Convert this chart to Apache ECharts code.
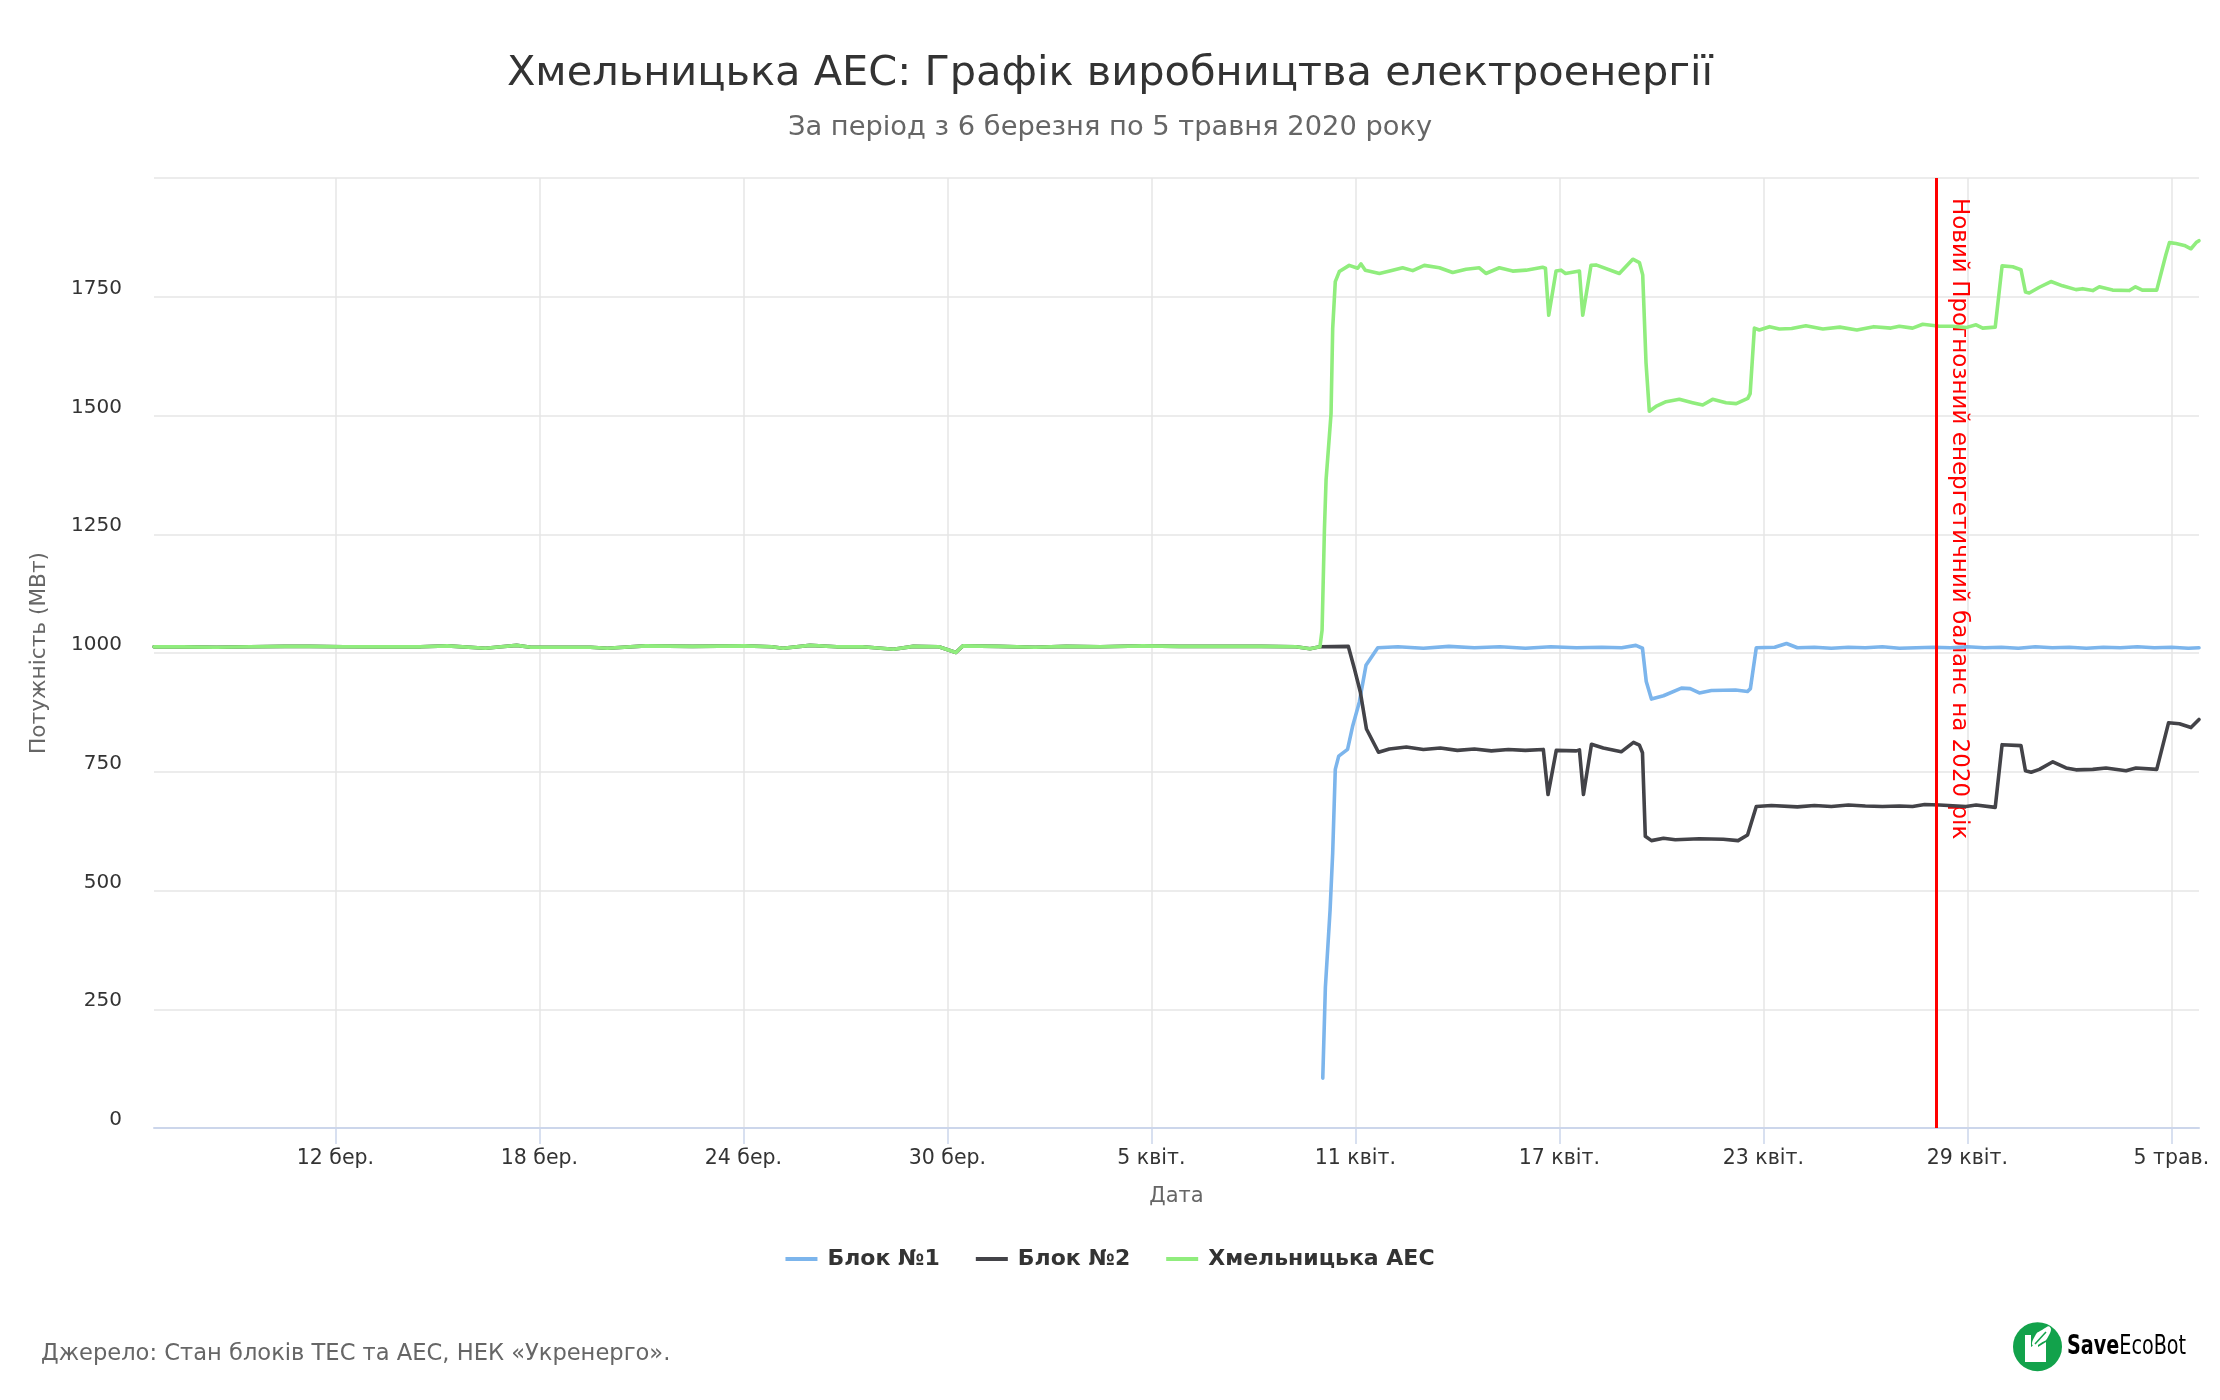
<!DOCTYPE html>
<html><head><meta charset="utf-8">
<script src="https://cdn.jsdelivr.net/npm/echarts@6/dist/echarts.min.js"></script>
<style>html,body{margin:0;padding:0;background:#fff}#main{width:2220px;height:1400px}</style>
</head><body><div id="main"></div>
<script>
// ---- data (times: 2020, MM-DD HH:mm) ----
const axisStart = '03-06 16:00';
const axisEnd = '05-05 19:30';
const tickDates = ['03-12 00:00','03-18 00:00','03-24 00:00','03-30 00:00','04-05 00:00','04-11 00:00','04-17 00:00','04-23 00:00','04-29 00:00','05-05 00:00'];
const tickLabels = ['12 бер.','18 бер.','24 бер.','30 бер.','5 квіт.','11 квіт.','17 квіт.','23 квіт.','29 квіт.','5 трав.'];
const yTicks = [0,250,500,750,1000,1250,1500,1750,2000];
const balanceDate = '04-28 02:00';
const balanceLabel = 'Новий Прогнозний енергетичний баланс на 2020 рік';

const unit1Times = ['04-10 01:00','04-10 02:50','04-10 06:10','04-10 08:00','04-10 09:50','04-10 12:15','04-10 18:30','04-10 22:10','04-11 02:50','04-11 07:30','04-11 15:50','04-12 06:00','04-13 00:00','04-13 18:00','04-14 12:00','04-15 06:00','04-16 00:00','04-16 18:00','04-17 12:00','04-18 06:00','04-18 20:00','04-19 06:00','04-19 10:40','04-19 13:20','04-19 17:00','04-20 01:30','04-20 14:10','04-20 20:20','04-21 02:50','04-21 11:20','04-22 04:20','04-22 12:50','04-22 14:50','04-22 19:00','04-23 08:00','04-23 16:20','04-24 00:00','04-24 12:00','04-25 00:00','04-25 12:00','04-26 00:00','04-26 12:00','04-27 00:00','04-27 12:00','04-28 00:00','04-28 12:00','04-29 00:00','04-29 12:00','04-30 00:00','04-30 12:00','05-01 00:00','05-01 12:00','05-02 00:00','05-02 12:00','05-03 00:00','05-03 12:00','05-04 00:00','05-04 12:00','05-05 00:00','05-05 12:00','05-05 19:30'];
const unit1Values = [105,296,459,579,755,783,797,847,897,974,1011,1013,1010,1014,1011,1013,1010,1013,1011,1012,1011,1016,1010,940,903,910,926,925,916,921,922,919,925,1011,1012,1020,1011,1012,1010,1012,1011,1013,1010,1011,1012,1011,1013,1011,1012,1010,1013,1011,1012,1010,1012,1011,1013,1011,1012,1010,1011];

const unit2Times = ['03-06 16:00','03-07 12:00','03-08 12:00','03-09 12:00','03-10 12:00','03-11 06:00','03-12 06:00','03-13 12:00','03-14 12:00','03-15 07:00','03-16 10:00','03-16 21:00','03-17 08:00','03-17 18:00','03-18 18:00','03-19 12:00','03-20 00:00','03-21 03:00','03-22 12:00','03-24 01:00','03-24 20:00','03-25 04:00','03-25 23:00','03-26 18:00','03-27 12:00','03-28 10:00','03-29 00:00','03-29 18:00','03-30 06:00','03-30 11:00','03-31 12:00','04-01 14:00','04-02 12:00','04-03 12:00','04-04 18:00','04-05 20:00','04-07 00:00','04-08 06:00','04-09 06:00','04-09 16:00','04-09 23:00',
'04-10 19:00','04-10 23:20','04-11 03:30','04-11 07:50','04-11 16:20','04-12 00:00','04-12 12:00','04-13 00:00','04-13 12:00','04-14 00:00','04-14 12:00','04-15 00:00','04-15 12:00','04-16 00:00','04-16 12:40','04-16 16:00','04-16 21:50','04-17 12:00','04-17 14:10','04-17 17:00','04-17 22:40','04-18 07:00','04-18 19:40','04-19 04:20','04-19 08:30','04-19 10:40','04-19 12:40','04-19 17:00','04-20 01:30','04-20 09:50','04-21 02:50','04-21 19:40','04-22 06:10','04-22 12:50','04-22 19:00','04-23 05:40','04-24 00:00','04-24 12:00','04-25 00:00','04-25 12:00','04-26 00:00','04-26 12:00','04-27 00:00','04-27 09:20','04-27 17:50','04-28 04:20','04-28 23:00','04-29 06:10','04-29 19:40','04-30 00:30','04-30 13:50','04-30 17:00','04-30 21:00','05-01 02:50','05-01 12:20','05-01 21:40','05-02 04:40','05-02 16:30','05-03 01:50','05-03 16:00','05-03 23:00','05-04 13:40','05-04 22:00','05-05 05:40','05-05 13:50','05-05 19:30'];
const unit2Values = [1013,1013,1012,1013,1014,1014,1013,1013,1013,1015,1010,1013,1016,1012,1012,1012,1010,1015,1014,1015,1013,1010,1016,1013,1013,1008,1014,1013,1001,1015,1014,1012,1014,1013,1015,1014,1014,1014,1013,1009,1013,
1014,967,918,840,791,798,802,797,800,795,798,794,797,795,797,702,795,794,796,702,808,800,792,812,806,790,614,605,610,607,609,608,605,617,677,679,676,679,677,680,678,677,678,677,681,680,677,680,675,807,805,752,749,755,771,758,754,755,758,752,758,755,853,851,843,860];

const plantTimes = ['03-06 16:00','03-07 12:00','03-08 12:00','03-09 12:00','03-10 12:00','03-11 06:00','03-12 06:00','03-13 12:00','03-14 12:00','03-15 07:00','03-16 10:00','03-16 21:00','03-17 08:00','03-17 18:00','03-18 18:00','03-19 12:00','03-20 00:00','03-21 03:00','03-22 12:00','03-24 01:00','03-24 20:00','03-25 04:00','03-25 23:00','03-26 18:00','03-27 12:00','03-28 10:00','03-29 00:00','03-29 18:00','03-30 06:00','03-30 11:00','03-31 12:00','04-01 14:00','04-02 12:00','04-03 12:00','04-04 18:00','04-05 20:00','04-07 00:00','04-08 06:00','04-09 06:00','04-09 16:00','04-09 23:00',
'04-10 00:30','04-10 02:10','04-10 03:20','04-10 05:40','04-10 06:50','04-10 08:00','04-10 09:50','04-10 12:40','04-10 19:40','04-11 01:40','04-11 04:00','04-11 07:00','04-11 17:00','04-12 02:20','04-12 09:20','04-12 16:30','04-13 00:40','04-13 11:20','04-13 20:40','04-14 06:10','04-14 15:30','04-14 20:10','04-15 05:40','04-15 15:00','04-16 00:30','04-16 12:10','04-16 14:10','04-16 16:30','04-16 21:40','04-17 01:10','04-17 04:20','04-17 14:10','04-17 16:30','04-17 22:20','04-18 01:50','04-18 18:20','04-19 03:50','04-19 08:30','04-19 10:50','04-19 13:10','04-19 15:30','04-19 20:10','04-20 03:20','04-20 12:40','04-20 22:00','04-21 05:10','04-21 12:10','04-21 21:40','04-22 04:50','04-22 13:00','04-22 14:40','04-22 17:40','04-22 21:10','04-23 04:20','04-23 11:20','04-23 20:00','04-24 06:00','04-24 18:00','04-25 06:00','04-25 18:00','04-26 06:00','04-26 18:00','04-27 00:00','04-27 09:20','04-27 16:30','04-28 04:20','04-28 13:40','04-28 23:00','04-29 06:10','04-29 10:50','04-29 19:40','04-30 00:30','04-30 08:00','04-30 13:50','04-30 17:00','04-30 19:40','05-01 02:50','05-01 11:00','05-01 19:10','05-02 04:40','05-02 09:20','05-02 16:30','05-02 21:10','05-03 06:30','05-03 18:20','05-03 22:40','05-04 03:30','05-04 13:40','05-04 20:10','05-04 22:40','05-05 03:20','05-05 09:10','05-05 13:50','05-05 17:30','05-05 19:30'];
const plantValues = [1013,1013,1012,1013,1014,1014,1013,1013,1013,1015,1010,1013,1016,1012,1012,1012,1010,1015,1014,1015,1013,1010,1016,1013,1013,1008,1014,1013,1001,1015,1014,1012,1014,1013,1015,1014,1014,1014,1013,1009,1013,
1048,1260,1365,1457,1504,1683,1782,1803,1816,1810,1819,1806,1799,1806,1811,1805,1816,1811,1801,1808,1811,1799,1811,1804,1806,1812,1810,1711,1804,1806,1799,1804,1711,1816,1817,1799,1829,1822,1796,1611,1509,1519,1529,1534,1527,1522,1534,1527,1525,1536,1546,1684,1680,1687,1682,1683,1689,1682,1686,1680,1687,1684,1688,1684,1692,1688,1688,1685,1691,1684,1686,1815,1813,1807,1760,1758,1770,1782,1773,1765,1767,1763,1771,1764,1763,1771,1764,1764,1839,1864,1862,1858,1851,1864,1868];

// ---- helpers ----
const T = s => new Date('2020-' + s.replace(' ', 'T')).getTime();
const pairs = (ts, vs) => ts.map((t, i) => [T(t), vs[i]]);
const tickTs = tickDates.map(T);
const FONT = '"DejaVu Sans", sans-serif';

const chart = echarts.init(document.getElementById('main'), null, {renderer: 'canvas'});
const lineSeries = (name, color, data, extra) => Object.assign({
  name, type: 'line', data, showSymbol: false, symbol: 'none',
  lineStyle: {width: 3.6, color, join: 'round', cap: 'round'},
  itemStyle: {color}, emphasis: {disabled: true}, animation: false
}, extra || {});

const staticGraphics = [
  {type: 'text', x: 41, y: 1354, style: {text: 'Джерело: Стан блоків ТЕС та АЕС, НЕК «Укренерго».', fill: '#666666',
    font: '22.6px ' + FONT, verticalAlign: 'middle'}},
  {type: 'circle', shape: {cx: 2037.5, cy: 1346.7, r: 24.5}, style: {fill: '#12a24b'}},
  {type: 'polygon', shape: {points: [[2025,1362],[2025,1335],[2031,1335],[2031,1347],[2038,1342],[2038,1347],[2046,1342],[2046,1362]]}, style: {fill: '#ffffff'}},
  {type: 'polygon', shape: {smooth: 0.6, points: [[2033,1346],[2035,1336],[2042,1330],[2050,1327],[2048,1337],[2041,1343]]}, style: {fill: '#ffffff'}},
  {type: 'line', shape: {x1: 2035, y1: 1344, x2: 2046, y2: 1332}, style: {stroke: '#12a24b', lineWidth: 1.5}},
  {type: 'text', x: 2067, y: 1347, scaleX: 0.82, style: {text: '{a|Save}{b|EcoBot}', verticalAlign: 'middle', rich: {
    a: {fontFamily: '"DejaVu Sans Condensed", sans-serif', fontWeight: 'bold', fontSize: 26, color: '#111111'},
    b: {fontFamily: '"DejaVu Sans Condensed", sans-serif', fontSize: 26, color: '#111111'}}}}
];

chart.setOption({
  animation: false,
  backgroundColor: '#ffffff',
  textStyle: {fontFamily: FONT},
  title: [
    {text: 'Хмельницька АЕС: Графік виробництва електроенергії', left: 'center', top: 47,
     textStyle: {fontSize: 41.5, fontWeight: 'normal', color: '#333333', fontFamily: FONT, lineHeight: 44}},
    {text: 'За період з 6 березня по 5 травня 2020 року', left: 'center', top: 108,
     textStyle: {fontSize: 27.3, fontWeight: 'normal', color: '#666666', fontFamily: FONT, lineHeight: 30}}
  ],
  grid: {left: 154, right: 21, top: 178, bottom: 272, containLabel: false},
  legend: {
    top: 1243, left: 'center', icon: 'rect', itemWidth: 32, itemHeight: 4, itemGap: 36,
    textStyle: {fontSize: 22, fontWeight: 'bold', color: '#333333', fontFamily: FONT, padding: [0, 0, 0, 5]},
    data: ['Блок №1', 'Блок №2', 'Хмельницька АЕС']
  },
  xAxis: {
    type: 'value', min: T(axisStart), max: T(axisEnd),
    axisLine: {show: true, lineStyle: {color: '#ccd6eb', width: 2}},
    axisTick: {show: true, length: 16, customValues: tickTs, lineStyle: {color: '#ccd6eb', width: 1.5}},
    axisLabel: {customValues: tickTs, color: '#333333', fontSize: 20.5, fontFamily: FONT, margin: 20,
      formatter: v => { const i = tickTs.indexOf(v); return i >= 0 ? tickLabels[i] : ''; }},
    splitLine: {show: true, lineStyle: {color: '#e6e6e6', width: 1.5}},
    name: 'Дата', nameLocation: 'middle', nameGap: 58,
    nameTextStyle: {color: '#666666', fontSize: 21, fontFamily: FONT}
  },
  yAxis: {
    type: 'value', min: yTicks[0], max: yTicks[yTicks.length - 1], interval: 250,
    axisLine: {show: false}, axisTick: {show: false},
    splitLine: {show: true, lineStyle: {color: '#e6e6e6', width: 1.5}},
    axisLabel: {color: '#333333', fontSize: 20, fontFamily: FONT, margin: 32, verticalAlign: 'bottom', lineHeight: 16,
      formatter: v => v === yTicks[yTicks.length - 1] ? '' : String(v)},
    name: 'Потужність (МВт)', nameLocation: 'middle', nameGap: 104, nameRotate: 90,
    nameTextStyle: {color: '#666666', fontSize: 21.7, fontFamily: FONT}
  },
  series: [
    lineSeries('Блок №1', '#7cb5ec', pairs(unit1Times, unit1Values)),
    lineSeries('Блок №2', '#434348', pairs(unit2Times, unit2Values)),
    lineSeries('Хмельницька АЕС', '#90ed7d', pairs(plantTimes, plantValues), {
      markLine: {silent: true, symbol: ['none', 'none'], animation: false,
        lineStyle: {color: '#ff0000', width: 3, type: 'solid'}, label: {show: false},
        data: [{xAxis: T(balanceDate)}]}
    })
  ],
  graphic: staticGraphics
});

// red balance line label positioned through the axis scales
const lx = chart.convertToPixel({xAxisIndex: 0}, T(balanceDate));
const ly = chart.convertToPixel({yAxisIndex: 0}, yTicks[yTicks.length - 1]);
chart.setOption({graphic: staticGraphics.concat([
  {type: 'text', x: lx + 11, y: ly + 20, rotation: -Math.PI / 2,
   style: {text: balanceLabel, x: 0, y: 0, align: 'left', verticalAlign: 'bottom',
     fill: '#ff0000', font: '23px ' + FONT}}
])}, {replaceMerge: ['graphic']});
</script></body></html>
